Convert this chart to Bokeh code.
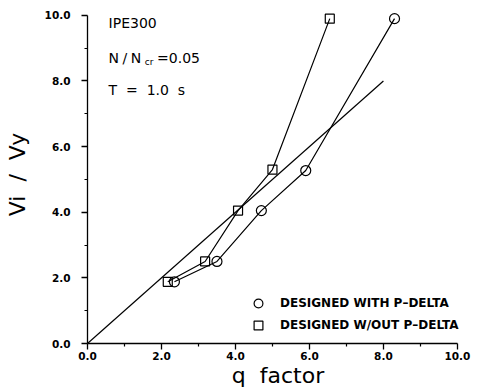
from bokeh.plotting import figure
from bokeh.models import Range1d, FixedTicker, Label, Legend, LegendItem
from bokeh.embed import file_html
from bokeh.resources import INLINE

# ---- data ----
with_pd_x = [2.35, 3.5, 4.7, 5.9, 8.3]
with_pd_y = [1.88, 2.5, 4.05, 5.27, 9.9]
without_pd_x = [2.17, 3.18, 4.07, 5.0, 6.55]
without_pd_y = [1.88, 2.5, 4.05, 5.3, 9.9]
ref_x = [0.0, 8.0]
ref_y = [0.0, 8.0]

x_ticks = [0, 2, 4, 6, 8, 10]
x_tick_labels = ["0.0", "2.0", "4.0", "6.0", "8.0", "10.0"]
y_ticks = [0, 2, 4, 6, 8, 10]
y_tick_labels = ["0.0", "2.0", "4.0", "6.0", "8.0", "10.0"]
minor_ticks = [1, 3, 5, 7, 9]

FONT = "DejaVu Sans"

p = figure(width=477, height=392, output_backend="svg", toolbar_location=None,
           x_range=Range1d(0, 10.3), y_range=Range1d(0, 10.3),
           min_border_left=87, min_border_right=9, min_border_top=5, min_border_bottom=49)
p.outline_line_color = None
p.xgrid.visible = False
p.ygrid.visible = False
p.background_fill_color = "white"

for ax, ticks, labels in ((p.xaxis[0], x_ticks, x_tick_labels), (p.yaxis[0], y_ticks, y_tick_labels)):
    ax.bounds = (0, 10)
    ax.ticker = FixedTicker(ticks=ticks, minor_ticks=minor_ticks)
    ax.major_label_overrides = {t: l for t, l in zip(ticks, labels)}
    ax.axis_line_width = 1.3
    ax.axis_line_color = "black"
    ax.major_tick_line_color = "black"
    ax.minor_tick_line_color = "black"
    ax.major_tick_line_width = 1.3
    ax.minor_tick_line_width = 1.2
    ax.major_tick_in = 0
    ax.major_tick_out = 6
    ax.minor_tick_in = 0
    ax.minor_tick_out = 3
    ax.major_label_text_font = FONT
    ax.major_label_text_font_style = "bold"
    ax.major_label_text_font_size = "10.5px"
    ax.major_label_text_color = "black"
    ax.axis_label_text_font = FONT
    ax.axis_label_text_font_style = "normal"
    ax.axis_label_text_font_size = "22px"
    ax.axis_label_text_color = "black"

p.xaxis.major_label_standoff = 2
p.yaxis.major_label_standoff = 11
p.xaxis.axis_label = "q\u00a0\u00a0factor"
p.yaxis.axis_label = "Vi\u00a0\u00a0/\u00a0\u00a0Vy"
p.xaxis.axis_label_standoff = 0
p.yaxis.axis_label_standoff = 12

# reference line
p.line(ref_x, ref_y, line_color="black", line_width=1.2)

# series
p.line(with_pd_x, with_pd_y, line_color="black", line_width=1.2)
r_c = p.scatter(with_pd_x, with_pd_y, marker="circle", size=10,
                fill_color=None, line_color="black", line_width=1.2)
p.line(without_pd_x, without_pd_y, line_color="black", line_width=1.2)
r_s = p.scatter(without_pd_x, without_pd_y, marker="square", size=9,
                fill_color=None, line_color="black", line_width=1.2)

legend = Legend(items=[LegendItem(label="DESIGNED WITH P\u2013DELTA", renderers=[r_c]),
                       LegendItem(label="DESIGNED W/OUT P\u2013DELTA", renderers=[r_s])],
                location=(160, 7), orientation="vertical",
                border_line_color=None, background_fill_alpha=0,
                padding=0, margin=0, spacing=-1,
                glyph_width=22, glyph_height=22, label_height=22,
                label_standoff=11,
                label_text_font=FONT, label_text_font_style="bold",
                label_text_font_size="12px", label_text_color="black")
p.add_layout(legend, "center")

# annotations
common = dict(text_font=FONT, text_color="black", text_baseline="middle", text_align="left")
p.add_layout(Label(x=0.57, y=9.76, text="IPE300", text_font_size="14px", **common))
p.add_layout(Label(x=0.57, y=8.69, text="N\u2005/\u2005N", text_font_size="14px", **common))
p.add_layout(Label(x=1.55, y=8.58, text="cr", text_font_size="9px", **common))
p.add_layout(Label(x=1.88, y=8.69, text="=0.05", text_font_size="14px", **common))
p.add_layout(Label(x=0.57, y=7.71, text="T\u00a0\u00a0=\u00a0\u00a01.0\u00a0\u00a0s", text_font_size="14px", **common))

open("out.html", "w").write(file_html(p, INLINE))
